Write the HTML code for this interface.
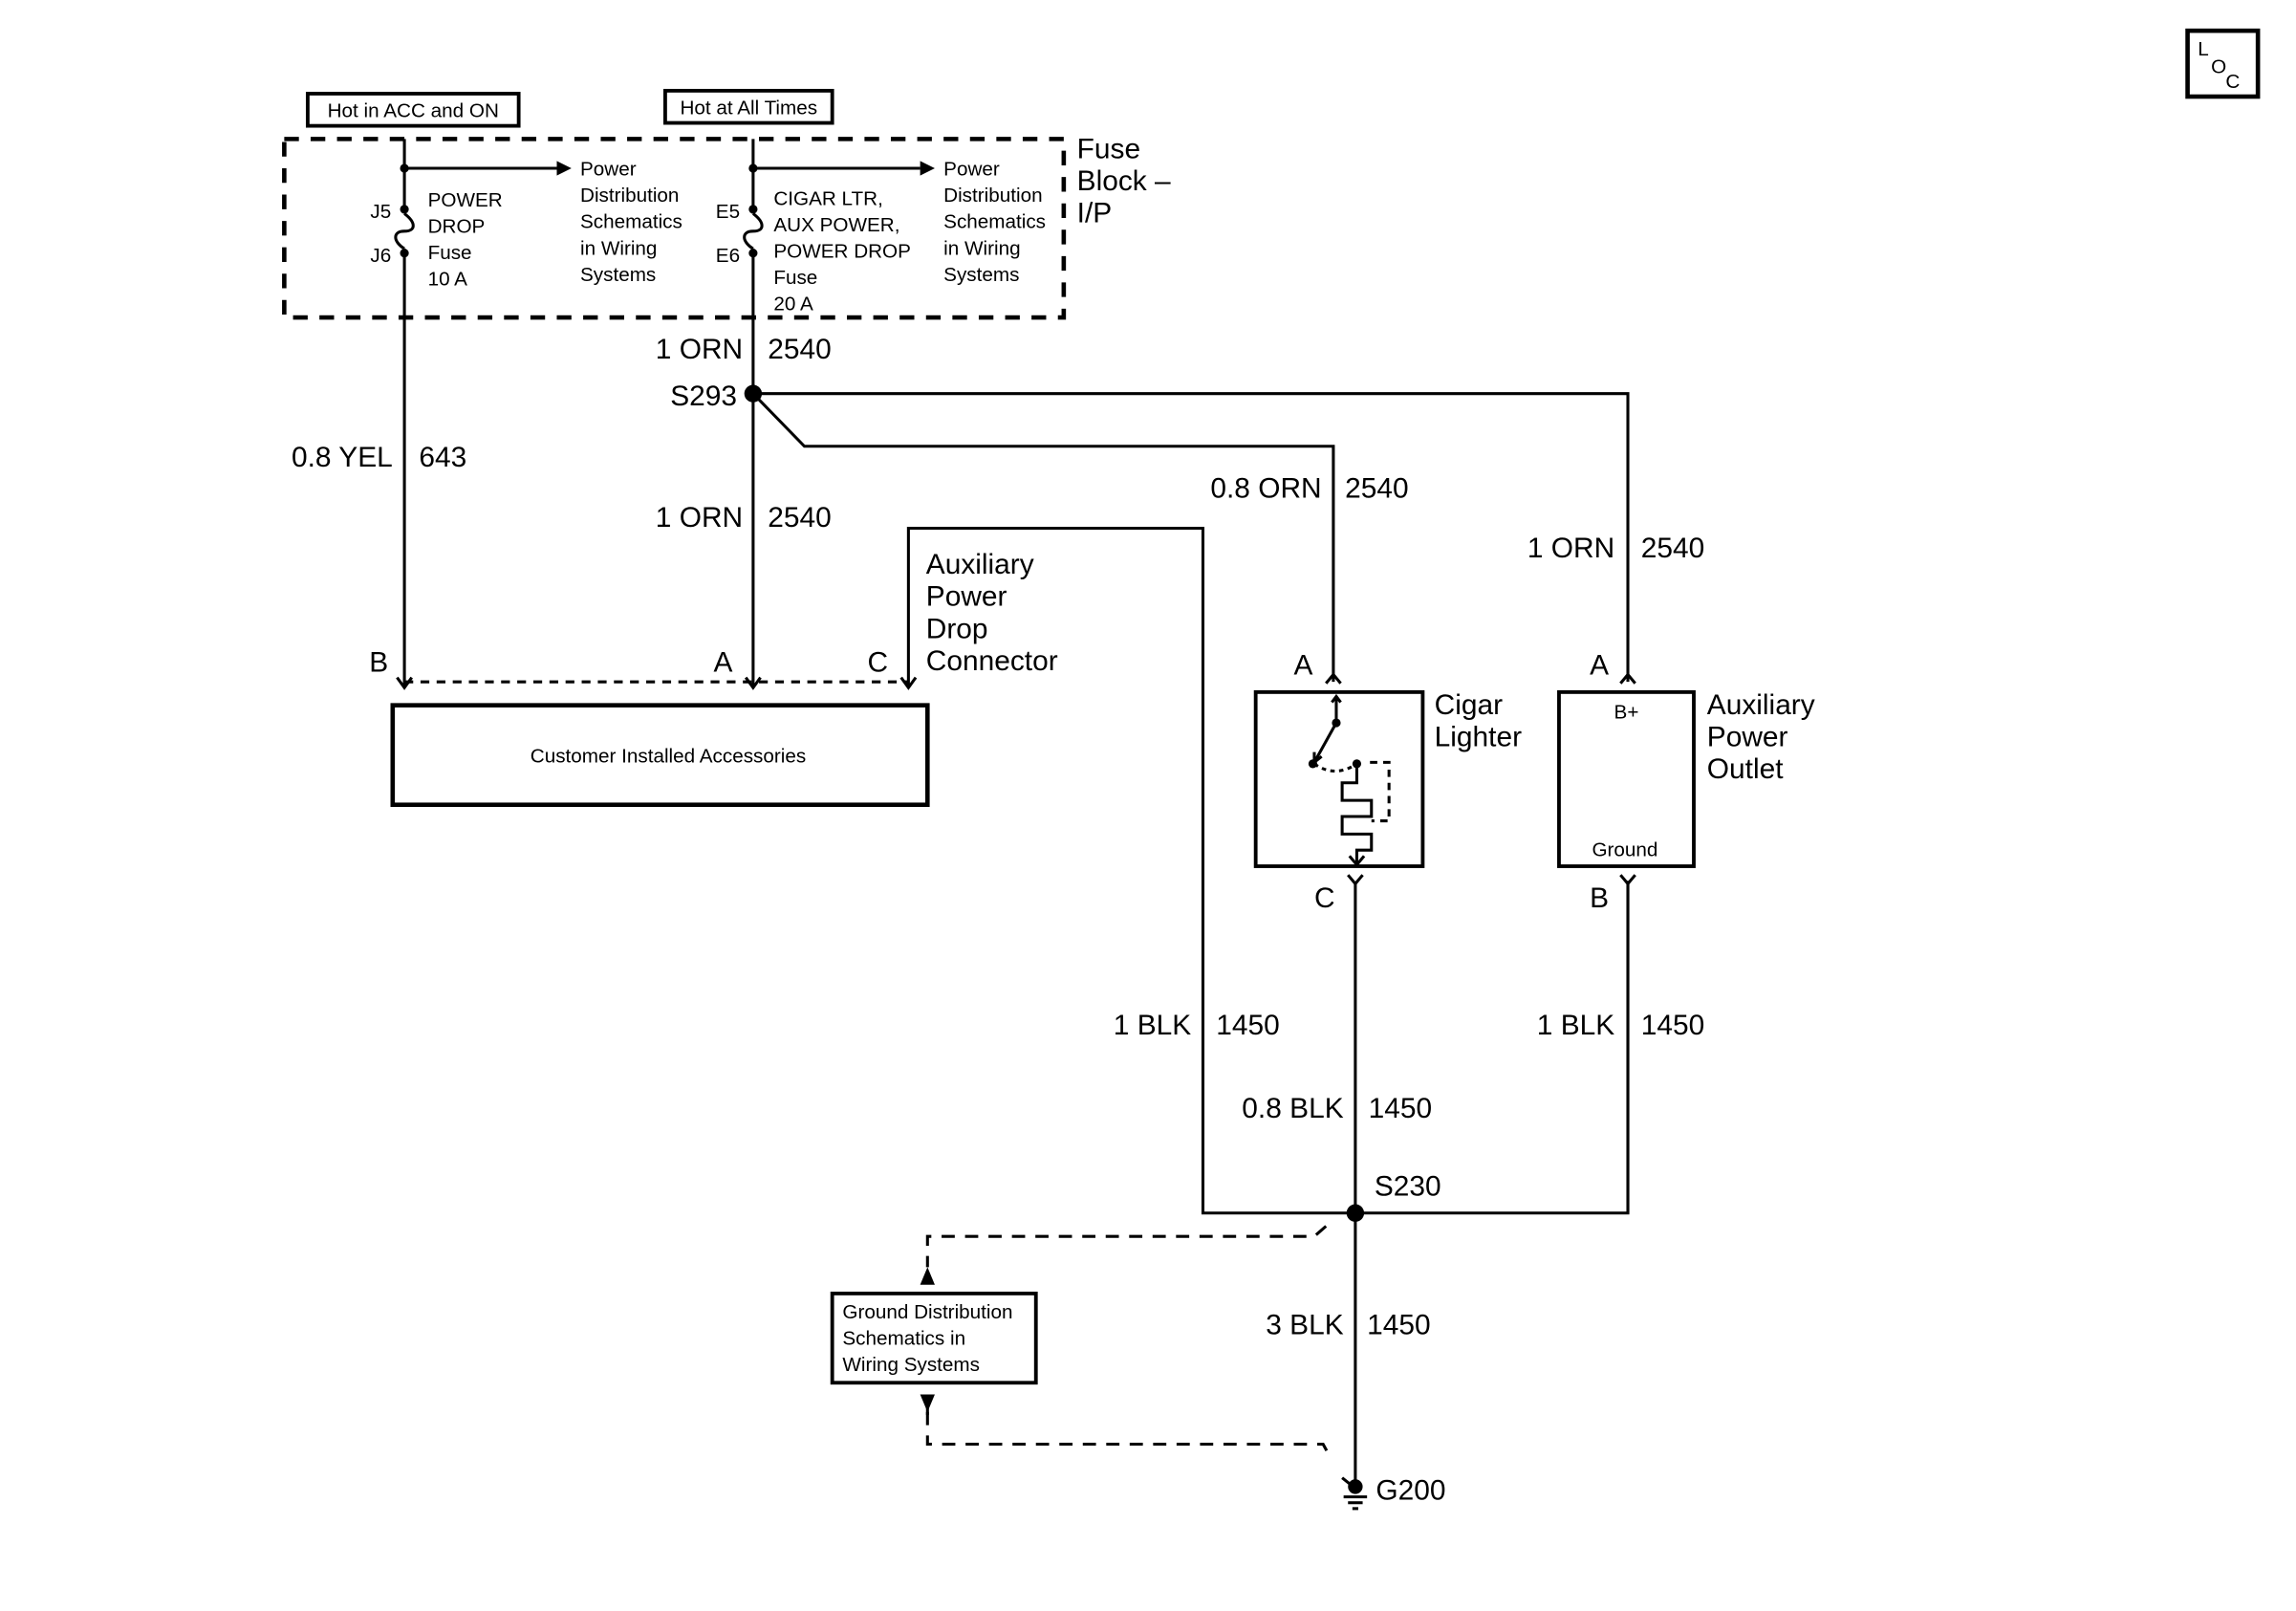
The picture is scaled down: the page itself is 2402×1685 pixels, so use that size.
<!DOCTYPE html>
<html><head><meta charset="utf-8"><style>
html,body{margin:0;padding:0;background:#fff;}
svg{display:block;}
text{font-family:"Liberation Sans",Arial,sans-serif;fill:#000;}
.s{font-size:13.5px;}
.l{font-size:19.5px;}
</style></head><body>
<svg width="2402" height="1685" viewBox="0 0 1567 1101" preserveAspectRatio="none" xmlns="http://www.w3.org/2000/svg">
<g fill="none" stroke="#000" stroke-width="2">
<rect x="1493" y="21" width="48" height="45" stroke-width="3"/>
<rect x="210" y="64" width="144" height="22" stroke-width="2.5"/>
<rect x="454" y="62" width="114" height="22" stroke-width="2.5"/>
<rect x="194" y="95" width="532" height="122" stroke-width="3" stroke-dasharray="10 8"/>
<line x1="276" y1="95" x2="276" y2="146"/>
<path d="M276,146 C284,152 284,158 276,158 C268,158 268,165 276,170"/>
<line x1="276" y1="170" x2="276" y2="469"/>
<line x1="276" y1="115" x2="380" y2="115"/>
<line x1="514" y1="95" x2="514" y2="146"/>
<path d="M514,146 C522,152 522,158 514,158 C506,158 506,165 514,170"/>
<line x1="514" y1="170" x2="514" y2="469"/>
<line x1="514" y1="115" x2="628" y2="115"/>
<polyline points="514,269 1111,269 1111,466"/>
<polyline points="514,269 549,305 910,305 910,466"/>
<polyline points="620,469 620,361 821,361 821,829 1111,829 1111,602"/>
<polyline points="271,463 276,470 281,463"/>
<polyline points="509,463 514,470 519,463"/>
<polyline points="615,463 620,470 625,463"/>
<line x1="276" y1="466" x2="620" y2="466" stroke-dasharray="6 5"/>
<rect x="268" y="482" width="365" height="68" stroke-width="3"/>
<polyline points="905,467 910,461 915,467"/>
<rect x="857" y="473" width="114" height="119" stroke-width="2.5"/>
<line x1="912" y1="476" x2="912" y2="494"/>
<polyline points="909,480 912,476 915,480"/>
<line x1="912" y1="494" x2="897" y2="521"/>
<polyline points="897,514 897,521 902,517"/>
<path d="M897,522 Q911,532 926,522" stroke-dasharray="3 3"/>
<polyline points="926,522 926,535 916,535 916,547 936,547 936,558 916,558 916,570 936,570 936,581 926,581 926,591"/>
<polyline points="921,585 926,591 931,585"/>
<polyline points="935,521 948,521 948,561 936,561" stroke-dasharray="5 4"/>
<polyline points="920,598 925,604 930,598"/>
<line x1="925" y1="604" x2="925" y2="1015"/>
<polyline points="1106,467 1111,461 1116,467"/>
<rect x="1064" y="473" width="92" height="119" stroke-width="2.5"/>
<polyline points="1106,598 1111,604 1116,598"/>
<line x1="1111" y1="602" x2="1111" y2="829"/>
<path d="M905,838 L897,845 L633,845 L633,866" stroke-dasharray="9 7"/>
<rect x="568" y="884" width="139" height="61" stroke-width="2.5"/>
<path d="M633,965 L633,987 L903,987 L908,996" stroke-dasharray="9 7"/>
<line x1="633" y1="958" x2="633" y2="967"/>
<line x1="916" y1="1010" x2="921" y2="1014"/>
<line x1="917" y1="1023" x2="933" y2="1023"/>
<line x1="920" y1="1027" x2="930" y2="1027"/>
<line x1="923" y1="1031" x2="927" y2="1031"/>
</g>
<g fill="#000">
<polygon points="380,110 390,115 380,120"/>
<polygon points="628,110 638,115 628,120"/>
<circle cx="276" cy="115" r="3"/><circle cx="276" cy="143" r="3"/><circle cx="276" cy="173" r="3"/>
<circle cx="514" cy="115" r="3"/><circle cx="514" cy="143" r="3"/><circle cx="514" cy="173" r="3"/>
<circle cx="514" cy="269" r="6"/>
<circle cx="925" cy="829" r="6"/>
<circle cx="925" cy="1016" r="5"/>
<circle cx="912" cy="494" r="3"/><circle cx="896" cy="522" r="3"/><circle cx="926" cy="522" r="3"/>
<polygon points="633,866 628,878 638,878"/>
<polygon points="628,953 638,953 633,965"/>
</g>
<g>
<text x="1500" y="38" class="s">L</text><text x="1509" y="50" class="s">O</text><text x="1519" y="60" class="s">C</text>
<text x="282" y="80" class="s" text-anchor="middle">Hot in ACC and ON</text>
<text x="511" y="78" class="s" text-anchor="middle">Hot at All Times</text>
<text x="267" y="149" class="s" text-anchor="end">J5</text>
<text x="267" y="179" class="s" text-anchor="end">J6</text>
<text x="505" y="149" class="s" text-anchor="end">E5</text>
<text x="505" y="179" class="s" text-anchor="end">E6</text>
<text class="s"><tspan x="292" y="141">POWER</tspan><tspan x="292" y="159">DROP</tspan><tspan x="292" y="177">Fuse</tspan><tspan x="292" y="195">10 A</tspan></text>
<text class="s"><tspan x="396" y="120">Power</tspan><tspan x="396" y="138">Distribution</tspan><tspan x="396" y="156">Schematics</tspan><tspan x="396" y="174">in Wiring</tspan><tspan x="396" y="192">Systems</tspan></text>
<text class="s"><tspan x="528" y="140">CIGAR LTR,</tspan><tspan x="528" y="158">AUX POWER,</tspan><tspan x="528" y="176">POWER DROP</tspan><tspan x="528" y="194">Fuse</tspan><tspan x="528" y="212">20 A</tspan></text>
<text class="s"><tspan x="644" y="120">Power</tspan><tspan x="644" y="138">Distribution</tspan><tspan x="644" y="156">Schematics</tspan><tspan x="644" y="174">in Wiring</tspan><tspan x="644" y="192">Systems</tspan></text>
<text class="l"><tspan x="735" y="108">Fuse</tspan><tspan x="735" y="130">Block –</tspan><tspan x="735" y="152">I/P</tspan></text>
<text x="507" y="245" class="l" text-anchor="end">1 ORN</text><text x="524" y="245" class="l">2540</text>
<text x="503" y="277" class="l" text-anchor="end">S293</text>
<text x="268" y="319" class="l" text-anchor="end">0.8 YEL</text><text x="286" y="319" class="l">643</text>
<text x="507" y="360" class="l" text-anchor="end">1 ORN</text><text x="524" y="360" class="l">2540</text>
<text x="902" y="340" class="l" text-anchor="end">0.8 ORN</text><text x="918" y="340" class="l">2540</text>
<text x="1102" y="381" class="l" text-anchor="end">1 ORN</text><text x="1120" y="381" class="l">2540</text>
<text class="l"><tspan x="632" y="392">Auxiliary</tspan><tspan x="632" y="414">Power</tspan><tspan x="632" y="436">Drop</tspan><tspan x="632" y="458">Connector</tspan></text>
<text x="252" y="459" class="l">B</text><text x="487" y="459" class="l">A</text><text x="592" y="459" class="l">C</text>
<text x="456" y="521" class="s" text-anchor="middle">Customer Installed Accessories</text>
<text x="883" y="461" class="l">A</text><text x="1085" y="461" class="l">A</text>
<text x="897" y="620" class="l">C</text><text x="1085" y="620" class="l">B</text>
<text class="l"><tspan x="979" y="488">Cigar</tspan><tspan x="979" y="510">Lighter</tspan></text>
<text class="l"><tspan x="1165" y="488">Auxiliary</tspan><tspan x="1165" y="510">Power</tspan><tspan x="1165" y="532">Outlet</tspan></text>
<text x="1110" y="491" class="s" text-anchor="middle">B+</text>
<text x="1109" y="585" class="s" text-anchor="middle">Ground</text>
<text x="813" y="707" class="l" text-anchor="end">1 BLK</text><text x="830" y="707" class="l">1450</text>
<text x="1102" y="707" class="l" text-anchor="end">1 BLK</text><text x="1120" y="707" class="l">1450</text>
<text x="917" y="764" class="l" text-anchor="end">0.8 BLK</text><text x="934" y="764" class="l">1450</text>
<text x="938" y="817" class="l">S230</text>
<text x="917" y="912" class="l" text-anchor="end">3 BLK</text><text x="933" y="912" class="l">1450</text>
<text class="s"><tspan x="575" y="901">Ground Distribution</tspan><tspan x="575" y="919">Schematics in</tspan><tspan x="575" y="937">Wiring Systems</tspan></text>
<text x="939" y="1025" class="l">G200</text>
</g>
</svg>
</body></html>
